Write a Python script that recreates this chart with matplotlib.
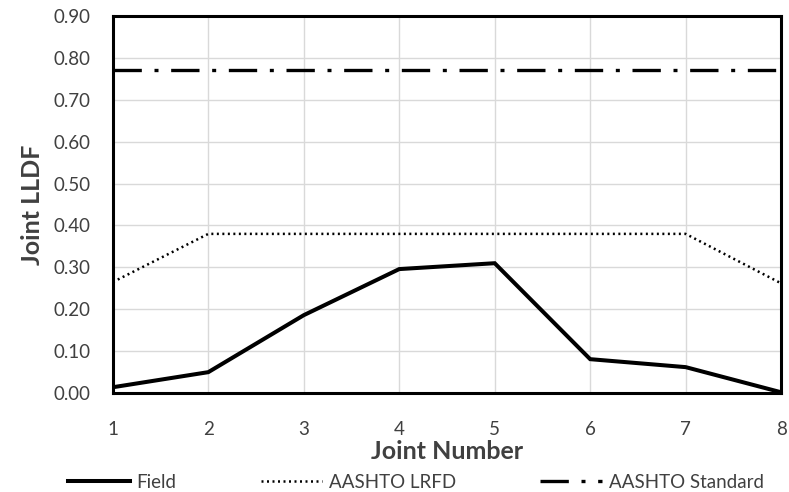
import matplotlib
matplotlib.use("Agg")
import matplotlib.pyplot as plt
from matplotlib.ticker import FormatStrFormatter

joints = [1, 2, 3, 4, 5, 6, 7, 8]
field = [0.014, 0.050, 0.186, 0.296, 0.310, 0.081, 0.062, 0.002]
lrfd = [0.265, 0.380, 0.380, 0.380, 0.380, 0.380, 0.380, 0.262]
standard = [0.77, 0.77, 0.77, 0.77, 0.77, 0.77, 0.77, 0.77]
yticks = [0.0, 0.1, 0.2, 0.3, 0.4, 0.5, 0.6, 0.7, 0.8, 0.9]

plt.rcParams['font.family'] = ['Lato', 'DejaVu Sans']

fig = plt.figure(figsize=(7.89, 4.92), dpi=100)
ax = fig.add_axes([0.143, 0.201, 0.847, 0.7665])

ax.plot(joints, field, color='black', lw=2.9, solid_joinstyle='miter', label='Field', zorder=3)
ax.plot(joints, lrfd, color='black', lw=1.8, linestyle=(0, (0.8, 1.4)), label='AASHTO LRFD', zorder=3)
ax.plot(joints, standard, color='black', lw=2.4, linestyle=(0, (8.5, 3.8, 1.2, 3.8)), label='AASHTO Standard', zorder=3)

ax.set_xlim(1, 8)
ax.set_ylim(0, 0.9)
ax.set_xticks(joints)
ax.set_yticks(yticks)
ax.yaxis.set_major_formatter(FormatStrFormatter('%.2f'))
ax.grid(True, color='#d9d9d9', lw=1.0)
ax.set_axisbelow(True)
ax.tick_params(length=0, labelsize=13.5, colors='#404040')
ax.tick_params(axis='y', pad=16)
ax.tick_params(axis='x', pad=20)
for s in ax.spines.values():
    s.set_linewidth(2.2)
    s.set_color('black')

ax.set_xlabel('Joint Number', fontsize=18, fontweight='bold', color='#404040', labelpad=1.5)
ax.set_ylabel('Joint LLDF', fontsize=18, fontweight='bold', color='#404040', labelpad=7)

fig.legend(loc='lower center', bbox_to_anchor=(0.527, -0.032), ncol=3, frameon=False,
           fontsize=13.5, handlelength=3.3, columnspacing=4.5, handletextpad=0.35,
           labelcolor='#404040')

fig.savefig('out.png', dpi=100)
